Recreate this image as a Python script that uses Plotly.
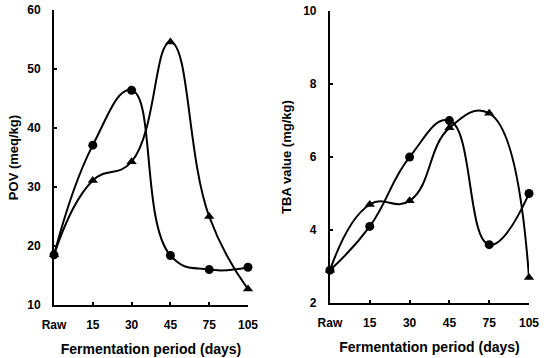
import plotly.graph_objects as go

categories = ["Raw", "15", "30", "45", "75", "105"]

pov_circle = [18.5, 37.1, 46.4, 18.4, 16.0, 16.4]
pov_triangle = [18.5, 31.1, 34.3, 54.6, 25.0, 12.7]

tba_circle = [2.9, 4.1, 6.0, 7.0, 3.6, 5.0]
tba_triangle = [2.9, 4.7, 4.8, 6.8, 7.2, 2.7]

pov_ticks = [10, 20, 30, 40, 50, 60]
tba_ticks = [2, 4, 6, 8, 10]

FONT = "Liberation Sans, Arial, sans-serif"

fig = go.Figure()

def add_series(y, symbol, xa, ya):
    fig.add_trace(go.Scatter(
        x=categories, y=y, mode="lines+markers",
        line=dict(color="black", width=2, shape="spline", smoothing=1.3),
        marker=dict(symbol=symbol, size=9, color="black"),
        cliponaxis=False, showlegend=False, xaxis=xa, yaxis=ya,
    ))

add_series(pov_circle, "circle", "x", "y")
add_series(pov_triangle, "triangle-up", "x", "y")
add_series(tba_circle, "circle", "x2", "y2")
add_series(tba_triangle, "triangle-up", "x2", "y2")

axis_common = dict(
    showline=True, linecolor="black", linewidth=2, mirror=False,
    ticks="inside", ticklen=3, tickwidth=1.5, tickcolor="black",
    showgrid=False, zeroline=False, automargin=False,
    tickfont=dict(family=FONT, size=12, color="black", weight="bold"),
)

xtitle_font = dict(family=FONT, size=14, color="black", weight="bold")
ytitle_font = dict(family=FONT, size=13, color="black", weight="bold")

fig.update_layout(
    width=549, height=358,
    margin=dict(l=0, r=0, t=0, b=0),
    paper_bgcolor="white", plot_bgcolor="white",
    xaxis=dict(domain=[0.0984, 0.4517], type="category", range=[0, 5],
               categoryorder="array", categoryarray=categories,
               anchor="y", ticklabelstandoff=8,
               title=dict(text="Fermentation period (days)", standoff=13, font=xtitle_font),
               **axis_common),
    yaxis=dict(domain=[0.148, 0.972], range=[10, 60], tickvals=pov_ticks,
               anchor="x", ticklabelstandoff=9,
               title=dict(text="POV (meq/kg)", standoff=6, font=ytitle_font),
               **axis_common),
    xaxis2=dict(domain=[0.601, 0.9636], type="category", range=[0, 5],
                categoryorder="array", categoryarray=categories,
                anchor="y2", ticklabelstandoff=8,
                title=dict(text="Fermentation period (days)", standoff=13, font=xtitle_font),
                **axis_common),
    yaxis2=dict(domain=[0.1536, 0.969], range=[2, 10], tickvals=tba_ticks,
                anchor="x2", ticklabelstandoff=9,
                title=dict(text="TBA value (mg/kg)", standoff=9, font=ytitle_font),
                **axis_common),
)

fig.write_html("out.html",
               config={"displayModeBar": False},
               post_script="document.body.style.margin='0';document.body.style.overflow='hidden';")
